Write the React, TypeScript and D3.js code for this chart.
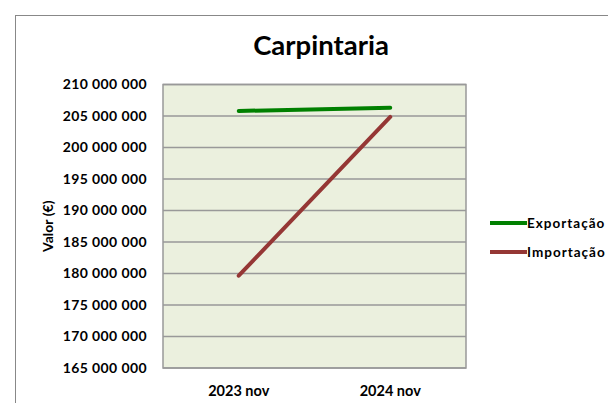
import React from "react";
import * as d3 from "d3";

const categories = ["2023 nov", "2024 nov"];
const exportacao = [205800000, 206300000];
const importacao = [179650000, 204850000];
const yTicks = [165000000, 170000000, 175000000, 180000000, 185000000, 190000000, 195000000, 200000000, 205000000, 210000000];
const seriesNames = ["Exportação", "Importação"];
const seriesColors = ["#008000", "#953735"];

const W = 608, H = 403;
const plot = { left: 163, right: 466, top: 84.5, bottom: 368 };
const font = "Lato, 'Open Sans', sans-serif";

function fmt(v: number) {
  return d3.format(",")(v).replace(/,/g, " ");
}

export default function App() {
  const x = d3.scaleBand().domain(categories).range([plot.left, plot.right]);
  const y = d3.scaleLinear().domain([165000000, 210000000]).range([plot.bottom, plot.top]);
  const line = d3.line<number>()
    .x((_, i) => (x(categories[i]) as number) + x.bandwidth() / 2)
    .y((d) => y(d));
  const series = [exportacao, importacao];
  return (
    <svg width={W} height={H} style={{ position: "absolute", left: 0, top: 0, fontFamily: font }}>
      <rect x={0} y={0} width={W} height={H} fill="#fff" />
      <rect x={15.5} y={15.5} width={W + 20} height={H + 20} fill="#fff" stroke="#888" strokeWidth={1} />
      <text x={321} y={55} textAnchor="middle" fontSize={27.5} fontWeight="bold" fill="#000">Carpintaria</text>
      <rect x={plot.left} y={plot.top} width={plot.right - plot.left} height={plot.bottom - plot.top} fill="#ebf0de" stroke="#999" strokeWidth={1.5} />
      {yTicks.map((t) => (
        <g key={t}>
          <line x1={plot.left} x2={plot.right} y1={y(t)} y2={y(t)} stroke="#999" strokeWidth={1.5} />
          <text x={147} y={y(t) + 4.5} textAnchor="end" fontSize={14} fontWeight="bold" fill="#000" letterSpacing={0.4}>{fmt(t)}</text>
        </g>
      ))}
      {categories.map((c) => (
        <text key={c} x={(x(c) as number) + x.bandwidth() / 2} y={396} textAnchor="middle" fontSize={14.5} fontWeight="bold" fill="#000">{c}</text>
      ))}
      <text transform={`translate(53,${(plot.top + plot.bottom) / 2}) rotate(-90)`} textAnchor="middle" fontSize={14} fontWeight="bold" fill="#000">Valor (€)</text>
      {series.map((s, i) => (
        <path key={i} d={line(s) as string} fill="none" stroke={seriesColors[i]} strokeWidth={4} strokeLinecap="round" />
      ))}
      {seriesNames.map((n, i) => (
        <g key={n}>
          <line x1={490} x2={527} y1={223 + i * 29} y2={223 + i * 29} stroke={seriesColors[i]} strokeWidth={4} />
          <text x={527} y={223 + i * 29 + 4.5} fontSize={13.5} fontWeight="bold" fill="#000" letterSpacing={1}>{n}</text>
        </g>
      ))}
    </svg>
  );
}
